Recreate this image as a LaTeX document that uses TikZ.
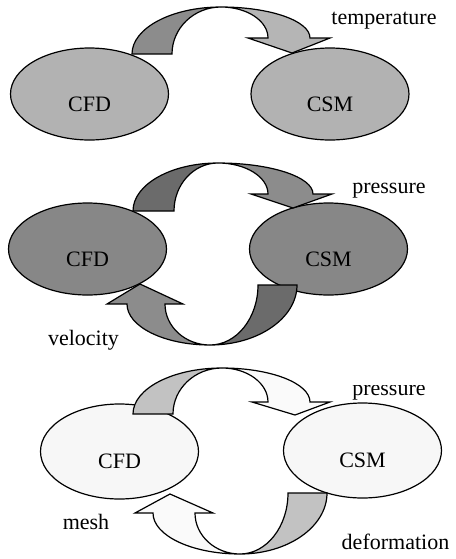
\documentclass[tikz,border=0pt]{standalone}
\usepackage{fontspec}
\setmainfont{Liberation Serif}
\usetikzlibrary{shapes.geometric}

\definecolor{ovalA}{gray}{0.70}
\definecolor{tailA}{gray}{0.55}
\definecolor{headA}{gray}{0.71}
\definecolor{ovalB}{gray}{0.53}
\definecolor{tailB}{gray}{0.42}
\definecolor{headB}{gray}{0.55}
\definecolor{ovalC}{gray}{0.97}
\definecolor{tailC}{gray}{0.76}
\definecolor{headC}{gray}{0.98}

\begin{document}
\begin{tikzpicture}[
        x=0.5pt, y=0.5pt,
        blob/.style={ellipse, draw, line width=0.6pt, minimum width=79pt, minimum height=46pt, inner sep=0pt,
                     text height=17pt, text depth=0pt, font=\fontsize{11}{13}\selectfont},
        lbl/.style={inner sep=0pt, font=\fontsize{11}{13}\selectfont},
        band/.style={draw, line width=0.6pt}
    ]
        \useasboundingbox (0,0) rectangle (456,-559);

        % Panel 1: one way coupling
        \node[blob, fill=ovalA] (cfdA) at (89.5,-94) {CFD};
        \node[blob, fill=ovalA] (csmA) at (330,-94) {CSM};
        \filldraw[band, fill=tailA] (132,-54) arc[start angle=180, end angle=90, x radius=44.5pt, y radius=23.5pt]
            arc[start angle=90, end angle=180, x radius=24.5pt, y radius=23.5pt] -- cycle;
        \filldraw[band, fill=headA] (221,-7) arc[start angle=90, end angle=0, x radius=44.5pt, y radius=15.5pt]
            -- (330,-38) -- (292,-53) -- (248,-38) -- (268,-38)
            arc[start angle=0, end angle=90, x radius=23.5pt, y radius=15.5pt] -- cycle;
        \node[lbl] (temp) at (384,-21) {temperature};

        % Panel 2: two way coupling
        \node[blob, fill=ovalB] (cfdB) at (87.5,-249) {CFD};
        \node[blob, fill=ovalB] (csmB) at (328.5,-249) {CSM};
        \filldraw[band, fill=tailB] (133,-211) arc[start angle=180, end angle=90, x radius=42.5pt, y radius=24pt]
            arc[start angle=90, end angle=180, x radius=22pt, y radius=24pt] -- cycle;
        \filldraw[band, fill=headB] (218,-163) arc[start angle=90, end angle=0, x radius=47.5pt, y radius=15.5pt]
            -- (332,-194) -- (293,-208) -- (251,-194) -- (268,-194)
            arc[start angle=0, end angle=90, x radius=25pt, y radius=15.5pt] -- cycle;
        \filldraw[band, fill=tailB] (297,-285) arc[start angle=0, end angle=-90, x radius=43.5pt, y radius=30pt]
            arc[start angle=-90, end angle=0, x radius=24pt, y radius=30pt] -- cycle;
        \filldraw[band, fill=headB] (210,-345) arc[start angle=270, end angle=180, x radius=41.5pt, y radius=20.5pt]
            -- (107,-304) -- (140,-284) -- (183,-304) -- (165,-304)
            arc[start angle=180, end angle=270, x radius=22.5pt, y radius=20.5pt] -- cycle;
        \node[lbl] (presB) at (389,-190.5) {pressure};
        \node[lbl] (velo) at (83.5,-340) {velocity};

        % Panel 3: with mesh motion
        \node[blob, fill=ovalC, minimum height=47.5pt] (cfdC) at (119.5,-451.5) {CFD};
        \node[blob, fill=ovalC, minimum height=47.5pt] (csmC) at (362.5,-450.5) {CSM};
        \filldraw[band, fill=tailC] (133,-414) arc[start angle=180, end angle=90, x radius=44.5pt, y radius=23pt]
            arc[start angle=90, end angle=180, x radius=24.5pt, y radius=23pt] -- cycle;
        \filldraw[band, fill=headC] (222,-368) arc[start angle=90, end angle=0, x radius=44pt, y radius=17pt]
            -- (330,-402) -- (295,-415) -- (252,-402) -- (268,-402)
            arc[start angle=0, end angle=90, x radius=23pt, y radius=17pt] -- cycle;
        \filldraw[band, fill=tailC] (327,-493) arc[start angle=0, end angle=-90, x radius=43.5pt, y radius=30.5pt]
            arc[start angle=-90, end angle=0, x radius=24pt, y radius=30.5pt] -- cycle;
        \filldraw[band, fill=headC] (240,-554) arc[start angle=270, end angle=180, x radius=43.5pt, y radius=20.5pt]
            -- (135,-513) -- (170,-494) -- (213,-513) -- (195,-513)
            arc[start angle=180, end angle=270, x radius=22.5pt, y radius=20.5pt] -- cycle;
        % top of this label is cut off in the original
        \begin{scope}
            \clip (330,-385.5) rectangle (450,-405);
            \node[lbl] (presC) at (389,-393) {pressure};
        \end{scope}
        \node[lbl] (mesh) at (86,-522) {mesh};
        \node[lbl] (defo) at (395.5,-542) {deformation};

    \end{tikzpicture}
\end{document}
